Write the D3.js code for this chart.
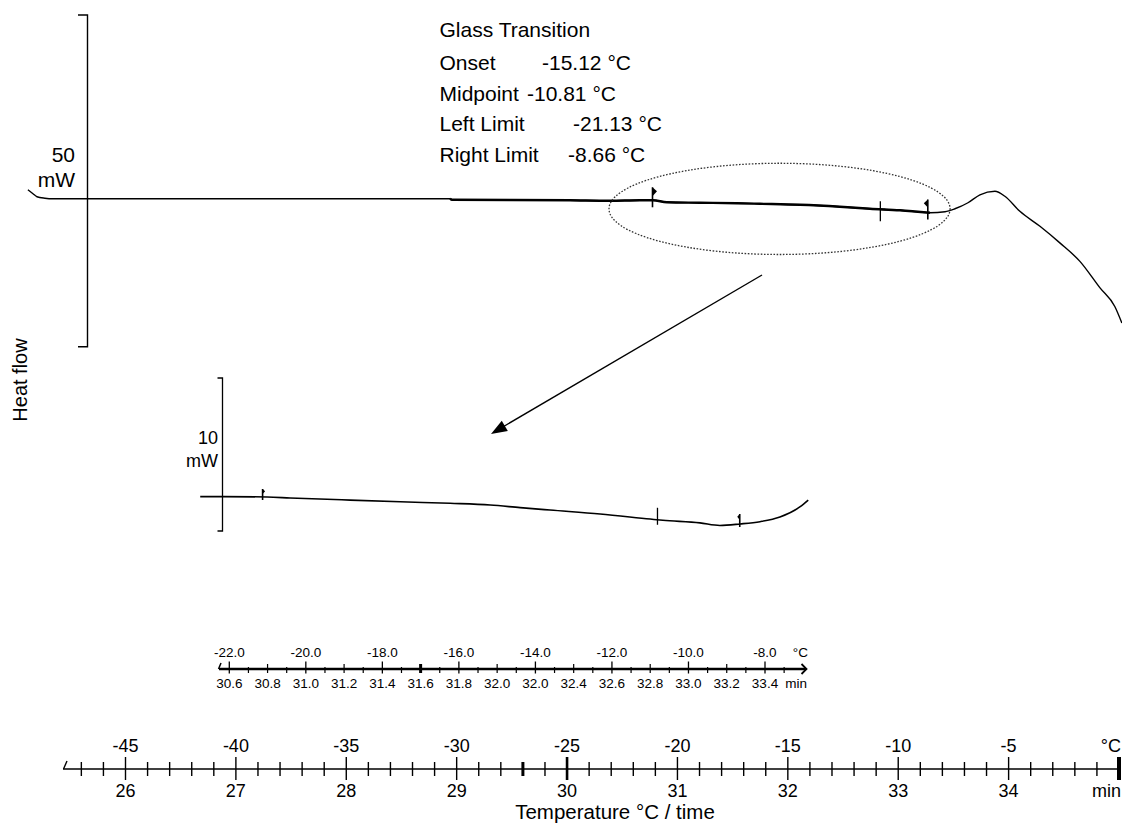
<!DOCTYPE html>
<html><head><meta charset="utf-8">
<script src="https://cdn.jsdelivr.net/npm/d3@7"></script>
<style>
html,body{margin:0;padding:0;background:#fff;}
svg{display:block;font-family:"Liberation Sans",Arial,Helvetica,sans-serif;}
</style></head><body>
<svg id="c" width="1122" height="823"></svg>
<script>
// ---------- DATA ----------
// main DSC curve: temperature (°C) vs heat flow (mW, relative to baseline)
const mainTemp = [-49.42,-49.19,-49.01,-48.65,-48.28,-30.30,-30.21,-24.87,-23.06,-21.70,-21.11,-20.48,-18.98,-17.31,-16.26,-14.45,-12.64,-11.28,-9.92,-8.56,-7.88,-7.43,-6.84,-6.30,-5.62,-5.17,-4.49,-3.58,-2.68,-1.77,-0.86,-0.19,0.13];
const mainFlow = [1.36,0.76,0.30,0.08,0,0,-0.15,-0.23,-0.30,-0.23,-0.23,-0.53,-0.60,-0.68,-0.76,-0.91,-1.21,-1.51,-1.74,-2.11,-1.96,-1.51,-0.60,0.60,1.13,0.38,-1.89,-4.15,-6.65,-9.44,-13.44,-16.24,-18.73];
// zoomed inset curve
const insetTemp = [-22.76,-22.18,-21.01,-20.41,-18.84,-17.53,-16.23,-15.18,-14.40,-13.62,-12.31,-11.00,-10.67,-9.70,-9.18,-8.65,-8.13,-7.61,-7.08,-6.87];
const insetFlow = [0.01,0.01,-0.02,-0.08,-0.22,-0.33,-0.43,-0.54,-0.71,-0.87,-1.13,-1.46,-1.54,-1.71,-1.88,-1.78,-1.63,-1.33,-0.65,-0.22];
// glass transition evaluation
const resultLabels = ["Glass Transition","Onset","Midpoint","Left Limit","Right Limit"];
const resultValues = ["","-15.12 °C","-10.81 °C","-21.13 °C","-8.66 °C"];
const leftLimit = -21.13, midPoint = -10.81, rightLimit = -8.66;
// scale bars (mW)
const mainBar = [-22.3, 27.7];   // 50 mW
const insetBar = [-2.24, 7.76];  // 10 mW
// main axis
const mainTimeTicks = [26,27,28,29,30,31,32,33,34];
const mainTimeLabels = ["26","27","28","29","30","31","32","33","34"];
const mainTempTicks = [-45,-40,-35,-30,-25,-20,-15,-10,-5];
const mainTempLabels = ["-45","-40","-35","-30","-25","-20","-15","-10","-5"];
const mainMinorTicks = d3.range(25.6, 34.9, 0.2).map(v => +v.toFixed(1)).filter(v => Math.abs(v - Math.round(v)) > 0.01);
const mainThickTicks = [29.6, 30.0];
// inset axis
const insetTempTicks = [-22,-20,-18,-16,-14,-12,-10,-8];
const insetTempLabels = ["-22.0","-20.0","-18.0","-16.0","-14.0","-12.0","-10.0","-8.0"];
const insetTimeTicks = [-22,-21,-20,-19,-18,-17,-16,-15,-14,-13,-12,-11,-10,-9,-8];
const insetTimeLabels = ["30.6","30.8","31.0","31.2","31.4","31.6","31.8","32.0","32.0","32.4","32.6","32.8","33.0","33.2","33.4"];
const insetHalfTicks = d3.range(-21.5, -7.4, 1);
const insetThickTicks = [-17];
// ellipse region (°C, mW)
const ellipseT = [-23.1, -7.65];
const ellipseF = [5.35, -8.4];

// ---------- SCALES ----------
const svg = d3.select("#c");
const xTime = d3.scaleLinear().domain([26, 35]).range([125.5, 1119]);
const xTemp = d3.scaleLinear().domain([-45, 0]).range([125.5, 1119]);
const yMain = d3.scaleLinear().domain(mainBar).range([346.7, 15]);
const xIn = d3.scaleLinear().domain([-22, -8]).range([229.3, 765]);
const yIn = d3.scaleLinear().domain(insetBar).range([531, 378]);

const mainPts = mainTemp.map((t, i) => [t, mainFlow[i]]);
const insetPts = insetTemp.map((t, i) => [t, insetFlow[i]]);
const mainInterp = d3.scaleLinear().domain(mainTemp).range(mainFlow);
const insetInterp = d3.scaleLinear().domain(insetTemp).range(insetFlow);

const ink = "#000";

// ---------- MAIN SCALE BAR ----------
const barX = 87.5;
svg.append("path")
  .attr("d", `M78,${yMain(mainBar[1])}H${barX}V${yMain(mainBar[0])}H78`)
  .attr("fill", "none").attr("stroke", ink).attr("stroke-width", 1.4);
svg.append("text").attr("x", 75).attr("y", 162).attr("text-anchor", "end")
  .attr("font-size", 21).text("50");
svg.append("text").attr("x", 75).attr("y", 187).attr("text-anchor", "end")
  .attr("font-size", 21).text("mW");

// ---------- MAIN CURVE ----------
const mainLine = d3.line().x(d => xTemp(d[0])).y(d => yMain(d[1])).curve(d3.curveMonotoneX);
svg.append("path").attr("d", mainLine(mainPts))
  .attr("fill", "none").attr("stroke", ink).attr("stroke-width", 1.4);
const thickPts = mainPts.filter(d => d[0] >= -30.3 && d[0] <= -8.5);
svg.append("path").attr("d", mainLine(thickPts))
  .attr("fill", "none").attr("stroke", ink).attr("stroke-width", 2.4);

function flag(x, y, up, down, dir, fh, fw) {
  svg.append("line").attr("x1", x).attr("x2", x).attr("y1", y - up).attr("y2", y + down)
    .attr("stroke", ink).attr("stroke-width", 1.6);
  svg.append("path")
    .attr("d", `M${x},${y - up}L${x + dir * fw},${y - up + fh * 0.45}L${x},${y - up + fh}Z`)
    .attr("fill", ink);
}
function cross(x, y, up, down, w) {
  svg.append("line").attr("x1", x).attr("x2", x).attr("y1", y - up).attr("y2", y + down)
    .attr("stroke", ink).attr("stroke-width", 1.3);
  svg.append("line").attr("x1", x - w).attr("x2", x + w).attr("y1", y).attr("y2", y)
    .attr("stroke", ink).attr("stroke-width", 1.3);
}
flag(xTemp(leftLimit), yMain(mainInterp(leftLimit)), 13, 7, 1, 9, 4.5);
cross(xTemp(midPoint), yMain(mainInterp(midPoint)), 8, 12, 5);
flag(xTemp(rightLimit), yMain(mainInterp(rightLimit)), 13, 7, -1, 8, 4);

// ellipse
svg.append("ellipse")
  .attr("cx", (xTemp(ellipseT[0]) + xTemp(ellipseT[1])) / 2)
  .attr("cy", (yMain(ellipseF[0]) + yMain(ellipseF[1])) / 2)
  .attr("rx", (xTemp(ellipseT[1]) - xTemp(ellipseT[0])) / 2)
  .attr("ry", (yMain(ellipseF[1]) - yMain(ellipseF[0])) / 2)
  .attr("fill", "none").attr("stroke", "#333").attr("stroke-width", 1.3)
  .attr("stroke-dasharray", "1.6,1.6");

// arrow
const a0 = [762, 275], a1 = [491, 434];
svg.append("line").attr("x1", a0[0]).attr("y1", a0[1]).attr("x2", a1[0] + 10).attr("y2", a1[1] - 6)
  .attr("stroke", ink).attr("stroke-width", 1.4);
{
  const dx = a1[0] - a0[0], dy = a1[1] - a0[1], L = Math.hypot(dx, dy);
  const ux = dx / L, uy = dy / L, nx = -uy, ny = ux, len = 16, hw = 6;
  const bx = a1[0] - ux * len, by = a1[1] - uy * len;
  svg.append("path").attr("d", `M${a1[0]},${a1[1]}L${bx + nx * hw},${by + ny * hw}L${bx - nx * hw},${by - ny * hw}Z`)
    .attr("fill", ink);
}

// ---------- RESULTS TEXT ----------
const rowY = [37, 70, 101, 131, 162];
const valX = [0, 542, 527, 573, 568];
resultLabels.forEach((s, i) => {
  svg.append("text").attr("x", 439.5).attr("y", rowY[i]).attr("font-size", 21).text(s);
  if (resultValues[i]) svg.append("text").attr("x", valX[i]).attr("y", rowY[i]).attr("font-size", 21).text(resultValues[i]);
});

// Heat flow label
svg.append("text").attr("transform", "translate(27,380) rotate(-90)")
  .attr("text-anchor", "middle").attr("font-size", 20).text("Heat flow");

// ---------- INSET ----------
const ibarX = 222.5;
svg.append("path")
  .attr("d", `M217.5,${yIn(insetBar[1])}H${ibarX}V${yIn(insetBar[0])}H217.5`)
  .attr("fill", "none").attr("stroke", ink).attr("stroke-width", 1.3);
svg.append("text").attr("x", 218).attr("y", 444).attr("text-anchor", "end").attr("font-size", 18).text("10");
svg.append("text").attr("x", 218).attr("y", 467).attr("text-anchor", "end").attr("font-size", 18).text("mW");

const insetLine = d3.line().x(d => xIn(d[0])).y(d => yIn(d[1])).curve(d3.curveMonotoneX);
svg.append("path").attr("d", insetLine(insetPts))
  .attr("fill", "none").attr("stroke", ink).attr("stroke-width", 1.6);
flag(xIn(leftLimit), yIn(insetInterp(leftLimit)), 8, 3, 1, 5, 2.5);
cross(xIn(midPoint), yIn(insetInterp(midPoint)), 12, 5, 0);
flag(xIn(rightLimit), yIn(insetInterp(rightLimit)), 10, 3, -1, 6, 2.5);

// ---------- INSET AXIS ----------
const iy = 669;
const gi = svg.append("g");
gi.append("line").attr("x1", 219).attr("x2", 806).attr("y1", iy).attr("y2", iy)
  .attr("stroke", ink).attr("stroke-width", 2.6);
gi.append("path").attr("d", `M221,${iy - 6}L218.5,${iy}`).attr("stroke", ink).attr("stroke-width", 1.5).attr("fill", "none");
gi.append("path").attr("d", `M801.5,${iy - 5}L806.5,${iy}L801.5,${iy + 5}`).attr("stroke", ink).attr("stroke-width", 1.8).attr("fill", "none");
insetTempTicks.forEach(t => gi.append("line").attr("x1", xIn(t)).attr("x2", xIn(t)).attr("y1", iy - 7.5).attr("y2", iy + 4.5).attr("stroke", ink).attr("stroke-width", 1.3));
insetTimeTicks.filter(t => t % 2 !== 0).forEach(t => gi.append("line").attr("x1", xIn(t)).attr("x2", xIn(t)).attr("y1", iy - 5).attr("y2", iy + 4).attr("stroke", ink).attr("stroke-width", 1.2));
insetHalfTicks.forEach(t => gi.append("line").attr("x1", xIn(t)).attr("x2", xIn(t)).attr("y1", iy - 2).attr("y2", iy + 4).attr("stroke", ink).attr("stroke-width", 1.2));
insetThickTicks.forEach(t => gi.append("line").attr("x1", xIn(t)).attr("x2", xIn(t)).attr("y1", iy - 5).attr("y2", iy + 4).attr("stroke", ink).attr("stroke-width", 3));
insetTempTicks.forEach((t, i) => gi.append("text").attr("x", xIn(t)).attr("y", 657).attr("text-anchor", "middle").attr("font-size", 13.5).text(insetTempLabels[i]));
gi.append("text").attr("x", 808).attr("y", 657).attr("text-anchor", "end").attr("font-size", 13.5).text("°C");
insetTimeTicks.forEach((t, i) => gi.append("text").attr("x", xIn(t)).attr("y", 688).attr("text-anchor", "middle").attr("font-size", 13.5).text(insetTimeLabels[i]));
gi.append("text").attr("x", 807).attr("y", 688).attr("text-anchor", "end").attr("font-size", 13.5).text("min");

// ---------- MAIN AXIS ----------
const my = 769;
const gm = svg.append("g");
gm.append("line").attr("x1", 63).attr("x2", xTime(35)).attr("y1", my).attr("y2", my)
  .attr("stroke", ink).attr("stroke-width", 1.6);
gm.append("path").attr("d", `M67,${my - 8}L63.5,${my}`).attr("stroke", ink).attr("stroke-width", 1.4).attr("fill", "none");
mainMinorTicks.forEach(t => gm.append("line").attr("x1", xTime(t)).attr("x2", xTime(t)).attr("y1", my - 7).attr("y2", my + 7)
  .attr("stroke", ink).attr("stroke-width", mainThickTicks.some(v => Math.abs(v - t) < 0.01) ? 3 : 1.4));
mainTimeTicks.forEach(t => gm.append("line").attr("x1", xTime(t)).attr("x2", xTime(t)).attr("y1", my - 12).attr("y2", my + 11)
  .attr("stroke", ink).attr("stroke-width", mainThickTicks.includes(t) ? 2.6 : 1.4));
gm.append("line").attr("x1", xTime(35)).attr("x2", xTime(35)).attr("y1", my - 12).attr("y2", my + 11)
  .attr("stroke", ink).attr("stroke-width", 4);
mainTempTicks.forEach((t, i) => gm.append("text").attr("x", xTemp(t)).attr("y", 752).attr("text-anchor", "middle").attr("font-size", 18).text(mainTempLabels[i]));
gm.append("text").attr("x", 1121).attr("y", 752).attr("text-anchor", "end").attr("font-size", 18).text("°C");
mainTimeTicks.forEach((t, i) => gm.append("text").attr("x", xTime(t)).attr("y", 797).attr("text-anchor", "middle").attr("font-size", 18).text(mainTimeLabels[i]));
gm.append("text").attr("x", 1121).attr("y", 797).attr("text-anchor", "end").attr("font-size", 18).text("min");
gm.append("text").attr("x", 615).attr("y", 819).attr("text-anchor", "middle").attr("font-size", 20.5).text("Temperature °C / time");
</script>
</body></html>
